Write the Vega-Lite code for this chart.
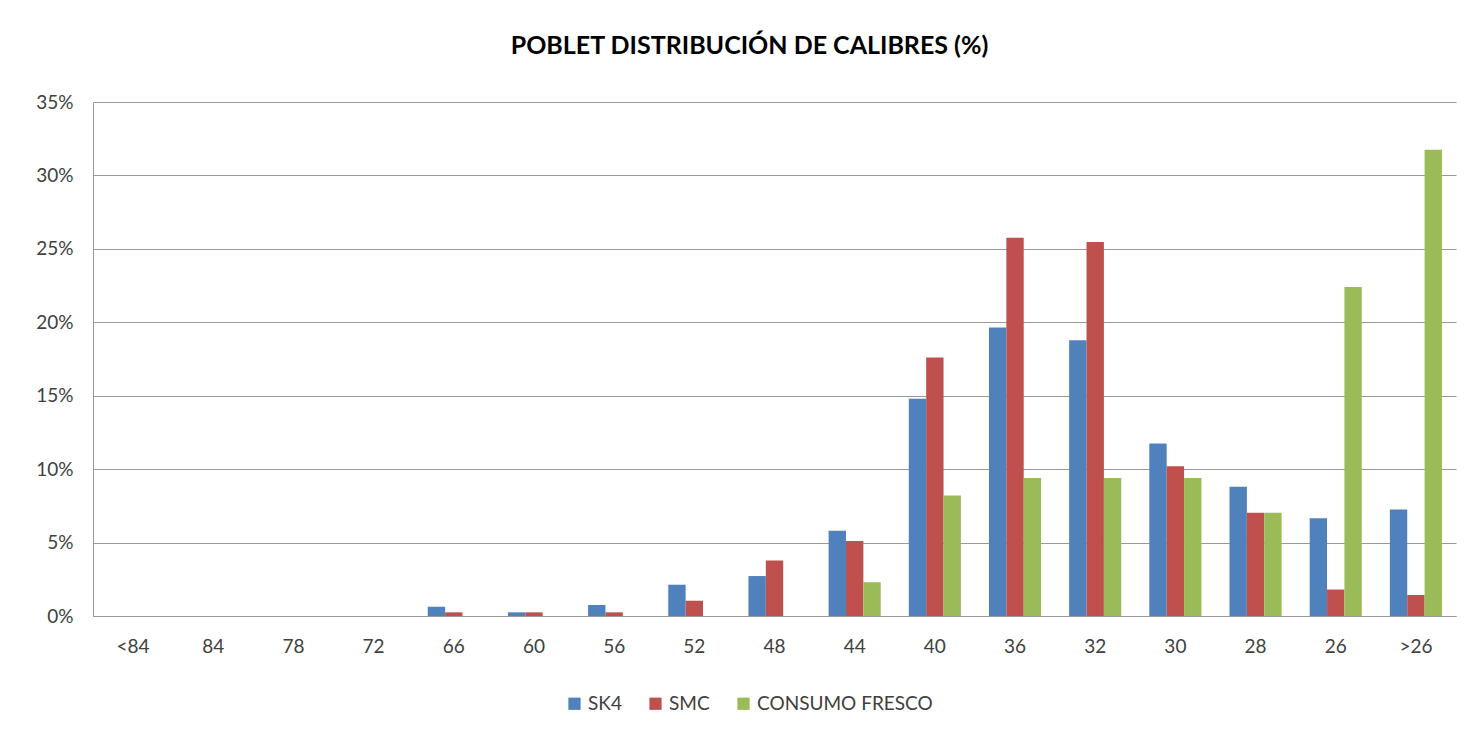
{
  "$schema": "https://vega.github.io/schema/vega-lite/v6.json",
  "width": 1363,
  "height": 514,
  "autosize": {"type": "none"},
  "padding": {"left": 93, "top": 102, "right": 28, "bottom": 125},
  "background": "white",
  "title": {
    "text": "POBLET DISTRIBUCIÓN DE CALIBRES (%)",
    "font": "Lato",
    "fontSize": 25,
    "fontWeight": "bold",
    "color": "#000000",
    "anchor": "middle",
    "offset": 34,
    "dx": -25
  },
  "data": {
    "values": [
      {"cal": "66", "serie": "SK4", "v": 0.0063},
      {"cal": "66", "serie": "SMC", "v": 0.0025},
      {"cal": "60", "serie": "SK4", "v": 0.0025},
      {"cal": "60", "serie": "SMC", "v": 0.0025},
      {"cal": "56", "serie": "SK4", "v": 0.0075},
      {"cal": "56", "serie": "SMC", "v": 0.0025},
      {"cal": "52", "serie": "SK4", "v": 0.0213},
      {"cal": "52", "serie": "SMC", "v": 0.0104},
      {"cal": "48", "serie": "SK4", "v": 0.0272},
      {"cal": "48", "serie": "SMC", "v": 0.0378},
      {"cal": "44", "serie": "SK4", "v": 0.058},
      {"cal": "44", "serie": "SMC", "v": 0.051},
      {"cal": "44", "serie": "CONSUMO FRESCO", "v": 0.023},
      {"cal": "40", "serie": "SK4", "v": 0.148},
      {"cal": "40", "serie": "SMC", "v": 0.176},
      {"cal": "40", "serie": "CONSUMO FRESCO", "v": 0.082},
      {"cal": "36", "serie": "SK4", "v": 0.1965},
      {"cal": "36", "serie": "SMC", "v": 0.2575},
      {"cal": "36", "serie": "CONSUMO FRESCO", "v": 0.094},
      {"cal": "32", "serie": "SK4", "v": 0.1877},
      {"cal": "32", "serie": "SMC", "v": 0.2546},
      {"cal": "32", "serie": "CONSUMO FRESCO", "v": 0.094},
      {"cal": "30", "serie": "SK4", "v": 0.1175},
      {"cal": "30", "serie": "SMC", "v": 0.1019},
      {"cal": "30", "serie": "CONSUMO FRESCO", "v": 0.094},
      {"cal": "28", "serie": "SK4", "v": 0.088},
      {"cal": "28", "serie": "SMC", "v": 0.0703},
      {"cal": "28", "serie": "CONSUMO FRESCO", "v": 0.0703},
      {"cal": "26", "serie": "SK4", "v": 0.0665},
      {"cal": "26", "serie": "SMC", "v": 0.018},
      {"cal": "26", "serie": "CONSUMO FRESCO", "v": 0.224},
      {"cal": ">26", "serie": "SK4", "v": 0.0726},
      {"cal": ">26", "serie": "SMC", "v": 0.0143},
      {"cal": ">26", "serie": "CONSUMO FRESCO", "v": 0.3175}
    ]
  },
  "mark": {"type": "bar"},
  "encoding": {
    "x": {
      "field": "cal",
      "type": "nominal",
      "scale": {
        "domain": ["<84", "84", "78", "72", "66", "60", "56", "52", "48", "44", "40", "36", "32", "30", "28", "26", ">26"],
        "paddingInner": 0.35,
        "paddingOuter": 0.175
      },
      "axis": {
        "title": null,
        "labelAngle": 0,
        "ticks": false,
        "domainColor": "#999999",
        "labelFontSize": 19,
        "labelPadding": 21,
        "labelColor": "#404040"
      }
    },
    "xOffset": {
      "field": "serie",
      "type": "nominal",
      "scale": {"domain": ["SK4", "SMC", "CONSUMO FRESCO"]}
    },
    "y": {
      "field": "v",
      "type": "quantitative",
      "scale": {"domain": [0, 0.35]},
      "axis": {
        "title": null,
        "format": ".0%",
        "values": [0, 0.05, 0.1, 0.15, 0.2, 0.25, 0.3, 0.35],
        "ticks": false,
        "domainColor": "#999999",
        "gridColor": "#999999",
        "labelFontSize": 19,
        "labelPadding": 20,
        "labelColor": "#404040"
      }
    },
    "color": {
      "field": "serie",
      "type": "nominal",
      "scale": {
        "domain": ["SK4", "SMC", "CONSUMO FRESCO"],
        "range": ["#4F81BD", "#C0504D", "#9BBB59"]
      },
      "legend": {
        "title": null,
        "orient": "none",
        "direction": "horizontal",
        "legendX": 472,
        "legendY": 592,
        "symbolType": "square",
        "symbolSize": 150,
        "symbolStrokeWidth": 0,
        "labelFontSize": 19,
        "labelLimit": 0,
        "labelColor": "#404040",
        "columnPadding": 24,
        "labelOffset": 4
      }
    }
  },
  "config": {
    "view": {"stroke": null},
    "font": "Lato"
  }
}
